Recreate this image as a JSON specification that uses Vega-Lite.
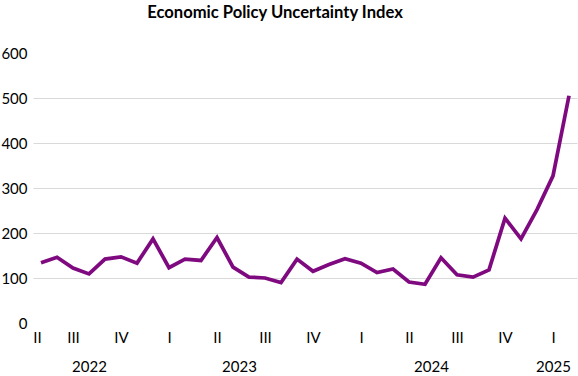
{
  "$schema": "https://vega.github.io/schema/vega-lite/v6.json",
  "width": 544,
  "height": 270,
  "autosize": {"type": "none"},
  "padding": {"left": 33, "top": 53, "right": 1, "bottom": 53},
  "background": "white",
  "title": {
    "text": "Economic Policy Uncertainty Index",
    "font": "Lato",
    "fontSize": 16.6,
    "fontWeight": "bold",
    "color": "#000000",
    "anchor": "middle",
    "frame": "group",
    "dx": -30,
    "offset": 24
  },
  "data": {
    "values": [
      {"month": "2022-06", "epu": 134},
      {"month": "2022-07", "epu": 146},
      {"month": "2022-08", "epu": 122},
      {"month": "2022-09", "epu": 109},
      {"month": "2022-10", "epu": 142},
      {"month": "2022-11", "epu": 147},
      {"month": "2022-12", "epu": 133},
      {"month": "2023-01", "epu": 187},
      {"month": "2023-02", "epu": 123},
      {"month": "2023-03", "epu": 142},
      {"month": "2023-04", "epu": 139},
      {"month": "2023-05", "epu": 190},
      {"month": "2023-06", "epu": 124},
      {"month": "2023-07", "epu": 102},
      {"month": "2023-08", "epu": 100},
      {"month": "2023-09", "epu": 90},
      {"month": "2023-10", "epu": 142},
      {"month": "2023-11", "epu": 115},
      {"month": "2023-12", "epu": 130},
      {"month": "2024-01", "epu": 143},
      {"month": "2024-02", "epu": 133},
      {"month": "2024-03", "epu": 112},
      {"month": "2024-04", "epu": 120},
      {"month": "2024-05", "epu": 91},
      {"month": "2024-06", "epu": 86},
      {"month": "2024-07", "epu": 145},
      {"month": "2024-08", "epu": 107},
      {"month": "2024-09", "epu": 102},
      {"month": "2024-10", "epu": 118},
      {"month": "2024-11", "epu": 233},
      {"month": "2024-12", "epu": 187},
      {"month": "2025-01", "epu": 252},
      {"month": "2025-02", "epu": 327},
      {"month": "2025-03", "epu": 505}
    ]
  },
  "mark": {"type": "line", "color": "#7f0a80", "strokeWidth": 3.75, "strokeJoin": "miter"},
  "encoding": {
    "x": {
      "field": "month",
      "type": "ordinal",
      "scale": {"type": "point", "padding": 0.5},
      "axis": {
        "title": null,
        "domain": false,
        "ticks": false,
        "grid": false,
        "labelAngle": 0,
        "labelOverlap": false,
        "labelFont": "Lato",
        "labelFontSize": 15,
        "labelColor": "#000000",
        "labelPadding": 7,
        "labelLineHeight": 29,
        "labelBaseline": "top",
        "labelOffset": {"condition": [{"test": "datum.value == '2023-06' || datum.value == '2024-06'", "value": 6}, {"test": "datum.value == '2022-06'", "value": -4}], "value": 0},
        "labelExpr": "datum.value == '2022-06' ? 'II' : datum.value == '2022-09' ? ['', '2022'] : datum.value == '2023-06' ? ['', '2023'] : datum.value == '2024-06' ? ['', '2024'] : datum.value == '2025-02' ? ['I', '2025'] : (slice(datum.value, 5) == '02' ? 'I' : slice(datum.value, 5) == '05' ? 'II' : slice(datum.value, 5) == '08' ? 'III' : slice(datum.value, 5) == '11' ? 'IV' : '')"
      }
    },
    "y": {
      "field": "epu",
      "type": "quantitative",
      "scale": {"domain": [0, 600], "nice": false},
      "axis": {
        "title": null,
        "values": [0, 100, 200, 300, 400, 500, 600],
        "domain": false,
        "ticks": false,
        "labelFont": "Lato",
        "labelFontSize": 15,
        "labelColor": "#000000",
        "labelPadding": 6,
        "gridColor": "#d9d9d9",
        "gridWidth": 1,
        "gridOpacity": {"condition": {"test": "datum.value == 0 || datum.value == 600", "value": 0}, "value": 1}
      }
    }
  },
  "config": {"view": {"stroke": null}}
}
